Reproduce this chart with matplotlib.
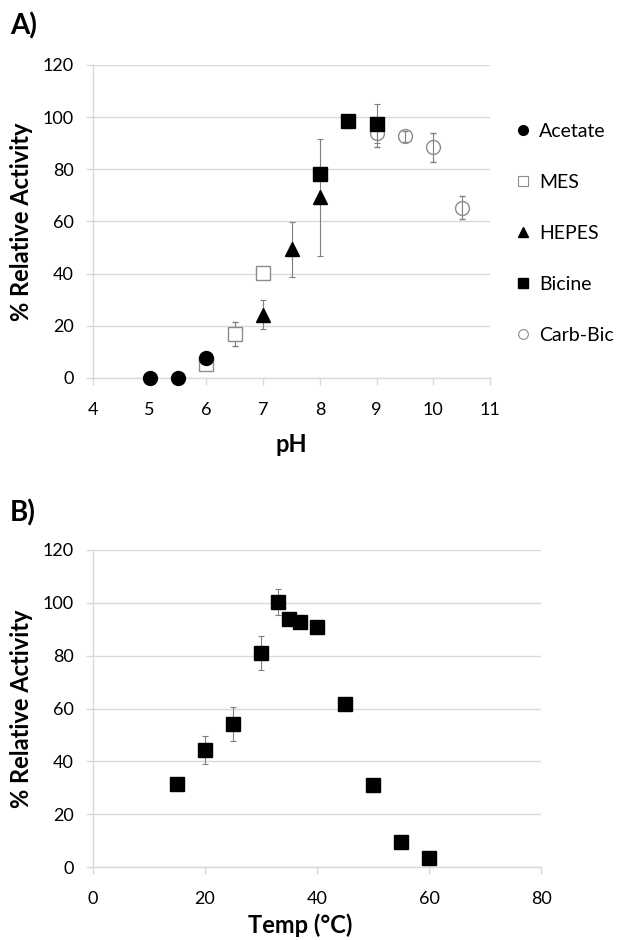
import matplotlib
matplotlib.use("Agg")
import matplotlib.pyplot as plt
from matplotlib.lines import Line2D

plt.rcParams['font.family'] = ['Lato', 'DejaVu Sans']

# Panel A: activity vs pH for each buffer
ace_ph = [5, 5.5, 6]
ace_act = [0, 0, 7.6]

mes_ph = [6, 6.5, 7]
mes_act = [5.5, 16.8, 40.3]
mes_err = [0, 4.7, 1.5]

hep_ph = [7, 7.5, 8]
hep_act = [24.3, 49.3, 69.3]
hep_err = [5.5, 10.5, 22.5]

bic_ph = [8, 8.5, 9]
bic_act = [78.2, 98.6, 97.5]
bic_err = [0, 0, 7.5]

cb_ph = [9, 9.5, 10, 10.5]
cb_act = [93.8, 92.6, 88.5, 65.3]
cb_err = [5.3, 2.0, 5.6, 4.3]

# Panel B: activity vs temperature
temp = [15, 20, 25, 30, 33, 35, 37, 40, 45, 50, 55, 60]
temp_act = [31.3, 44.3, 54.0, 81.0, 100.4, 93.9, 92.6, 91.0, 61.6, 31.0, 9.5, 3.4]
temp_err = [0.8, 5.3, 6.4, 6.6, 5.0, 0, 0, 0, 0, 0, 0, 0]

GRID = '#d9d9d9'
ERRC = '#7f7f7f'
OPEN = '#8c8c8c'

fig = plt.figure(figsize=(6.23, 9.4), dpi=100)
W, H = 623.0, 940.0

def style(ax, xlim, xticks):
    ax.set_xlim(*xlim)
    ax.set_ylim(0, 120)
    ax.set_xticks(xticks)
    ax.set_yticks(range(0, 121, 20))
    ax.grid(axis='y', color=GRID, linewidth=1.0)
    ax.set_axisbelow(True)
    for s in ['top', 'right']:
        ax.spines[s].set_visible(False)
    for s in ['left', 'bottom']:
        ax.spines[s].set_color(GRID)
        ax.spines[s].set_linewidth(1.0)
    ax.tick_params(axis='both', colors=GRID, labelcolor='black', labelsize=13,
                   length=5, width=1.0)
    ax.tick_params(axis='x', pad=12)
    ax.tick_params(axis='y', pad=9)

ekw = dict(ecolor=ERRC, elinewidth=0.8, capsize=2, capthick=0.8, linestyle='none')

# ---- A) ----
axA = fig.add_axes([93 / W, 1 - 378 / H, 397 / W, 313 / H])
style(axA, (4, 11), range(4, 12))
axA.errorbar(mes_ph, mes_act, yerr=mes_err, marker='s', ms=10, mfc='white',
             mec=OPEN, mew=1.0, zorder=3, **ekw)
axA.errorbar(ace_ph, ace_act, marker='o', ms=10, color='black', zorder=4,
             linestyle='none', clip_on=False)
axA.errorbar(hep_ph, hep_act, yerr=hep_err, marker='^', ms=10, mfc='black',
             mec='black', zorder=4, **ekw)
axA.errorbar(cb_ph, cb_act, yerr=cb_err, marker='o', ms=10, mfc='none',
             mec=OPEN, mew=1.0, zorder=3, **ekw)
axA.errorbar(bic_ph, bic_act, yerr=bic_err, marker='s', ms=10, mfc='black',
             mec='black', zorder=5, **ekw)
axA.set_xlabel('pH', fontsize=17, fontweight='bold')
axA.set_ylabel('% Relative Activity', fontsize=17, fontweight='bold')
axA.xaxis.set_label_coords(0.5, (378 - 445) / 313)
axA.xaxis.label.set_va('center')
axA.yaxis.set_label_coords((22 - 93) / 397, 0.5)
axA.yaxis.label.set_va('center')

handles = [
    Line2D([], [], marker='o', ms=7, color='black', linestyle='none'),
    Line2D([], [], marker='s', ms=7, mfc='white', mec=OPEN, mew=0.8, linestyle='none'),
    Line2D([], [], marker='^', ms=7, color='black', linestyle='none'),
    Line2D([], [], marker='s', ms=7, color='black', linestyle='none'),
    Line2D([], [], marker='o', ms=7, mfc='white', mec=OPEN, mew=0.8, linestyle='none'),
]
labels = ['Acetate', 'MES', 'HEPES', 'Bicine', 'Carb-Bic']
fig.legend(handles, labels, loc='upper left', bbox_to_anchor=(513 / W, 1 - 123 / H),
           frameon=False, fontsize=14, handlelength=1.0, handletextpad=0.35,
           labelspacing=1.75, borderpad=0, borderaxespad=0)

fig.text(10 / W, 1 - 34 / H, 'A)', fontsize=20, fontweight='bold', va='baseline')

# ---- B) ----
axB = fig.add_axes([93 / W, 1 - 867 / H, 448 / W, 317 / H])
style(axB, (0, 80), range(0, 81, 20))
axB.errorbar(temp, temp_act, yerr=temp_err, marker='s', ms=10, mfc='black',
             mec='black', zorder=4, **ekw)
axB.set_xlabel('Temp (°C)', fontsize=17, fontweight='bold')
axB.set_ylabel('% Relative Activity', fontsize=17, fontweight='bold')
axB.xaxis.set_label_coords((300 - 93) / 448, (867 - 925) / 317)
axB.xaxis.label.set_va('center')
axB.yaxis.set_label_coords((22 - 93) / 448, 0.5)
axB.yaxis.label.set_va('center')

fig.text(10 / W, 1 - 521 / H, 'B)', fontsize=20, fontweight='bold', va='baseline')

plt.savefig('out.png', dpi=100)
